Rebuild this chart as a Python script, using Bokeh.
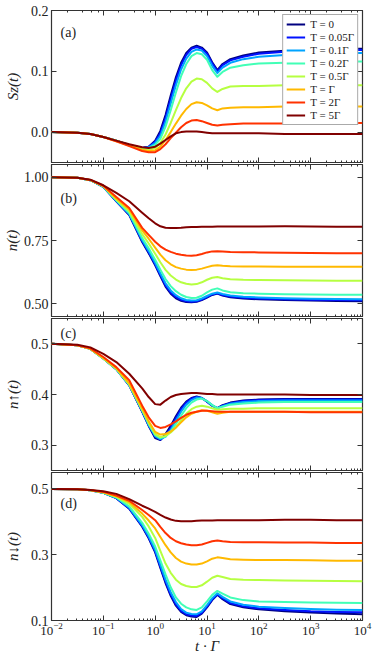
from bokeh.plotting import figure
from bokeh.models import (LogAxis, LinearAxis, FixedTicker, LogTicker,
                          PrintfTickFormatter, Label, Legend, LegendItem)
from bokeh.layouts import column
from bokeh.embed import file_html
from bokeh.resources import INLINE

# time axis t*Gamma (log spaced samples)
t = [0.01, 0.0316, 0.0562, 0.1, 0.178, 0.316, 0.562, 0.75, 1.0, 1.259, 1.585,
     1.995, 2.512, 3.162, 3.981, 5.012, 6.31, 7.943, 10.0, 12.59, 15.85, 19.95,
     28.18, 50.12, 100.0, 316.2, 1000.0, 3162.0, 10000.0]

labels = ["T = 0", "T = 0.05Γ", "T = 0.1Γ", "T = 0.2Γ", "T = 0.5Γ",
          "T = Γ", "T = 2Γ", "T = 5Γ"]
colors = ["#000080", "#0012ff", "#00a4ff", "#41ffb6", "#b6ff41",
          "#ffb900", "#ff3200", "#800000"]

# (a) S_z(t)
sz = [
    [0, -0.001, -0.003, -0.008, -0.014, -0.021, -0.026, -0.024, -0.014, 0.002, 0.028, 0.060, 0.090, 0.114, 0.130, 0.139, 0.142, 0.139, 0.131, 0.115, 0.102, 0.112, 0.120, 0.126, 0.131, 0.134, 0.136, 0.137, 0.137],
    [0, -0.001, -0.003, -0.008, -0.014, -0.021, -0.026, -0.024, -0.016, -0.002, 0.023, 0.055, 0.085, 0.110, 0.127, 0.137, 0.140, 0.137, 0.129, 0.113, 0.100, 0.110, 0.118, 0.124, 0.129, 0.132, 0.134, 0.135, 0.135],
    [0, -0.001, -0.003, -0.008, -0.014, -0.021, -0.027, -0.025, -0.018, -0.006, 0.017, 0.047, 0.077, 0.103, 0.121, 0.132, 0.136, 0.134, 0.125, 0.109, 0.097, 0.106, 0.114, 0.120, 0.124, 0.127, 0.129, 0.130, 0.130],
    [0, -0.001, -0.003, -0.008, -0.014, -0.021, -0.027, -0.026, -0.021, -0.011, 0.009, 0.036, 0.065, 0.092, 0.112, 0.125, 0.130, 0.128, 0.119, 0.102, 0.091, 0.099, 0.106, 0.110, 0.113, 0.114, 0.115, 0.116, 0.116],
    [0, -0.001, -0.003, -0.008, -0.014, -0.021, -0.028, -0.029, -0.026, -0.018, -0.004, 0.015, 0.036, 0.056, 0.072, 0.083, 0.088, 0.087, 0.081, 0.072, 0.066, 0.071, 0.075, 0.076, 0.076, 0.077, 0.077, 0.077, 0.077],
    [0, -0.001, -0.003, -0.008, -0.015, -0.022, -0.029, -0.031, -0.030, -0.024, -0.013, 0.000, 0.014, 0.027, 0.038, 0.046, 0.049, 0.048, 0.044, 0.039, 0.036, 0.039, 0.040, 0.041, 0.041, 0.042, 0.042, 0.042, 0.042],
    [0, -0.001, -0.003, -0.008, -0.015, -0.023, -0.031, -0.033, -0.033, -0.028, -0.020, -0.010, -0.001, 0.008, 0.015, 0.019, 0.020, 0.018, 0.015, 0.012, 0.011, 0.012, 0.013, 0.014, 0.014, 0.014, 0.015, 0.015, 0.015],
    [0, -0.001, -0.003, -0.008, -0.014, -0.020, -0.025, -0.026, -0.024, -0.019, -0.013, -0.007, -0.002, 0.000, 0.001, 0.001, 0.001, 0.000, -0.001, -0.002, -0.002, -0.002, -0.002, -0.002, -0.002, -0.003, -0.003, -0.003, -0.003],
]

# (b) n(t)
n_tot = [
    [1.0, 0.998, 0.988, 0.962, 0.905, 0.850, 0.744, 0.700, 0.652, 0.610, 0.568, 0.540, 0.522, 0.512, 0.507, 0.506, 0.508, 0.515, 0.525, 0.535, 0.541, 0.533, 0.526, 0.521, 0.518, 0.515, 0.513, 0.511, 0.510],
    [1.0, 0.998, 0.988, 0.962, 0.906, 0.852, 0.748, 0.704, 0.656, 0.614, 0.573, 0.545, 0.527, 0.516, 0.510, 0.508, 0.510, 0.517, 0.527, 0.537, 0.542, 0.535, 0.529, 0.524, 0.521, 0.518, 0.516, 0.515, 0.514],
    [1.0, 0.998, 0.988, 0.962, 0.907, 0.854, 0.752, 0.709, 0.662, 0.621, 0.581, 0.553, 0.534, 0.522, 0.515, 0.513, 0.514, 0.521, 0.531, 0.540, 0.545, 0.539, 0.533, 0.528, 0.525, 0.522, 0.520, 0.519, 0.518],
    [1.0, 0.998, 0.988, 0.963, 0.909, 0.858, 0.760, 0.719, 0.674, 0.635, 0.598, 0.570, 0.550, 0.536, 0.527, 0.523, 0.524, 0.532, 0.545, 0.556, 0.561, 0.553, 0.546, 0.542, 0.540, 0.538, 0.537, 0.536, 0.536],
    [1.0, 0.998, 0.988, 0.964, 0.912, 0.865, 0.775, 0.738, 0.698, 0.664, 0.634, 0.612, 0.596, 0.585, 0.579, 0.576, 0.578, 0.585, 0.595, 0.603, 0.606, 0.601, 0.597, 0.595, 0.594, 0.593, 0.592, 0.591, 0.591],
    [1.0, 0.998, 0.989, 0.965, 0.916, 0.872, 0.790, 0.757, 0.722, 0.694, 0.672, 0.656, 0.645, 0.639, 0.635, 0.634, 0.635, 0.639, 0.645, 0.650, 0.652, 0.650, 0.648, 0.647, 0.647, 0.646, 0.646, 0.646, 0.646],
    [1.0, 0.998, 0.989, 0.966, 0.922, 0.878, 0.800, 0.772, 0.745, 0.727, 0.714, 0.705, 0.698, 0.694, 0.691, 0.690, 0.692, 0.697, 0.703, 0.707, 0.708, 0.707, 0.705, 0.704, 0.703, 0.702, 0.701, 0.700, 0.700],
    [1.0, 0.998, 0.990, 0.968, 0.938, 0.905, 0.860, 0.838, 0.818, 0.806, 0.800, 0.799, 0.799, 0.800, 0.802, 0.803, 0.803, 0.804, 0.804, 0.804, 0.805, 0.805, 0.805, 0.805, 0.805, 0.806, 0.805, 0.804, 0.804],
]

# (c) n_up(t)
n_up = [
    [0.5, 0.497, 0.490, 0.471, 0.450, 0.418, 0.366, 0.338, 0.314, 0.310, 0.322, 0.338, 0.357, 0.374, 0.386, 0.393, 0.396, 0.393, 0.386, 0.378, 0.373, 0.379, 0.384, 0.388, 0.390, 0.391, 0.391, 0.391, 0.391],
    [0.5, 0.497, 0.490, 0.471, 0.450, 0.418, 0.367, 0.339, 0.317, 0.311, 0.319, 0.334, 0.353, 0.371, 0.384, 0.392, 0.395, 0.393, 0.386, 0.378, 0.373, 0.378, 0.383, 0.387, 0.389, 0.390, 0.390, 0.390, 0.390],
    [0.5, 0.497, 0.490, 0.471, 0.450, 0.419, 0.368, 0.340, 0.318, 0.312, 0.317, 0.330, 0.348, 0.366, 0.380, 0.389, 0.394, 0.393, 0.387, 0.379, 0.373, 0.377, 0.382, 0.385, 0.387, 0.388, 0.388, 0.388, 0.388],
    [0.5, 0.497, 0.490, 0.471, 0.450, 0.419, 0.369, 0.342, 0.320, 0.314, 0.317, 0.327, 0.342, 0.358, 0.373, 0.384, 0.390, 0.392, 0.387, 0.379, 0.373, 0.376, 0.380, 0.382, 0.384, 0.385, 0.385, 0.385, 0.385],
    [0.5, 0.497, 0.490, 0.471, 0.451, 0.420, 0.370, 0.344, 0.322, 0.316, 0.318, 0.325, 0.335, 0.349, 0.362, 0.371, 0.376, 0.378, 0.376, 0.373, 0.370, 0.371, 0.372, 0.372, 0.373, 0.373, 0.373, 0.373, 0.373],
    [0.5, 0.497, 0.490, 0.472, 0.452, 0.422, 0.373, 0.347, 0.326, 0.321, 0.322, 0.327, 0.335, 0.345, 0.355, 0.362, 0.366, 0.369, 0.368, 0.365, 0.362, 0.364, 0.366, 0.366, 0.366, 0.366, 0.366, 0.366, 0.366],
    [0.5, 0.497, 0.491, 0.474, 0.454, 0.428, 0.378, 0.355, 0.338, 0.334, 0.336, 0.341, 0.347, 0.354, 0.360, 0.364, 0.366, 0.368, 0.368, 0.367, 0.366, 0.366, 0.366, 0.366, 0.366, 0.366, 0.365, 0.365, 0.365],
    [0.5, 0.498, 0.493, 0.480, 0.464, 0.441, 0.412, 0.395, 0.381, 0.380, 0.388, 0.395, 0.399, 0.401, 0.402, 0.403, 0.403, 0.402, 0.401, 0.401, 0.400, 0.400, 0.400, 0.400, 0.400, 0.400, 0.399, 0.399, 0.399],
]

# (d) n_down(t)
n_dn = [
    [0.5, 0.499, 0.496, 0.488, 0.472, 0.440, 0.385, 0.350, 0.307, 0.260, 0.214, 0.175, 0.145, 0.126, 0.116, 0.112, 0.111, 0.121, 0.140, 0.162, 0.178, 0.165, 0.150, 0.140, 0.134, 0.128, 0.124, 0.121, 0.119],
    [0.5, 0.499, 0.496, 0.488, 0.472, 0.441, 0.387, 0.352, 0.310, 0.264, 0.218, 0.179, 0.149, 0.129, 0.119, 0.115, 0.114, 0.123, 0.142, 0.164, 0.180, 0.168, 0.153, 0.143, 0.137, 0.132, 0.128, 0.126, 0.125],
    [0.5, 0.499, 0.496, 0.488, 0.473, 0.443, 0.390, 0.356, 0.315, 0.270, 0.225, 0.186, 0.156, 0.135, 0.124, 0.120, 0.119, 0.128, 0.147, 0.168, 0.183, 0.172, 0.158, 0.148, 0.142, 0.138, 0.135, 0.133, 0.132],
    [0.5, 0.499, 0.496, 0.488, 0.474, 0.447, 0.397, 0.364, 0.325, 0.283, 0.240, 0.201, 0.170, 0.151, 0.140, 0.134, 0.132, 0.140, 0.158, 0.178, 0.190, 0.182, 0.170, 0.162, 0.158, 0.156, 0.155, 0.154, 0.153],
    [0.5, 0.499, 0.496, 0.489, 0.476, 0.455, 0.415, 0.386, 0.351, 0.312, 0.273, 0.245, 0.224, 0.211, 0.205, 0.202, 0.202, 0.207, 0.218, 0.230, 0.236, 0.232, 0.226, 0.224, 0.223, 0.222, 0.221, 0.220, 0.219],
    [0.5, 0.499, 0.496, 0.490, 0.478, 0.460, 0.425, 0.404, 0.380, 0.354, 0.329, 0.307, 0.290, 0.279, 0.273, 0.270, 0.270, 0.273, 0.280, 0.288, 0.292, 0.290, 0.286, 0.285, 0.284, 0.284, 0.283, 0.282, 0.282],
    [0.5, 0.499, 0.497, 0.491, 0.480, 0.464, 0.436, 0.421, 0.405, 0.385, 0.366, 0.351, 0.341, 0.335, 0.331, 0.329, 0.329, 0.331, 0.336, 0.341, 0.343, 0.341, 0.339, 0.338, 0.338, 0.337, 0.337, 0.336, 0.336],
    [0.5, 0.499, 0.497, 0.493, 0.485, 0.469, 0.449, 0.440, 0.430, 0.421, 0.413, 0.407, 0.403, 0.402, 0.402, 0.402, 0.403, 0.404, 0.404, 0.404, 0.405, 0.405, 0.405, 0.405, 0.405, 0.406, 0.406, 0.405, 0.405],
]

y_ranges = [(-0.05, 0.2), (0.45, 1.05), (0.25, 0.55), (0.1, 0.55)]
y_ticks = [[0.0, 0.1, 0.2], [0.5, 0.75, 1.0], [0.3, 0.4, 0.5], [0.1, 0.3, 0.5]]
y_fmts = ["%.1f", "%.2f", "%.1f", "%.1f"]
y_titles = ["Sz(t)", "n(t)", "n↑(t)", "n↓(t)"]
panel_tags = ["(a)", "(b)", "(c)", "(d)"]
x_title = "t · Γ"

FONT = "Liberation Serif"
TXT = "#222222"
W = 374


def style_axis(ax, show_labels, minor=True):
    ax.axis_line_color = None
    ax.major_tick_in = 5
    ax.major_tick_out = 0
    ax.major_tick_line_color = "#333333"
    ax.minor_tick_in = 2 if minor else 0
    ax.minor_tick_out = 0
    ax.minor_tick_line_color = "#333333"
    ax.major_label_text_font = FONT
    ax.major_label_text_color = TXT
    if show_labels:
        ax.major_label_text_font_size = "14px"
        ax.major_label_standoff = 3
    else:
        ax.major_label_text_font_size = "1px"
        ax.major_label_text_alpha = 0.0
        ax.major_label_standoff = 0


def make_panel(i, height, top, bottom, show_x):
    p = figure(width=W, height=height, x_axis_type="log", x_range=(0.01, 1e4),
               y_range=y_ranges[i], output_backend="svg", toolbar_location=None,
               min_border_left=48, min_border_right=12, min_border_top=top,
               min_border_bottom=bottom)
    p.grid.visible = False
    p.outline_line_color = "#333333"
    p.outline_line_width = 1.2
    p.background_fill_color = "white"
    p.border_fill_color = "white"

    xa = p.xaxis[0]
    style_axis(xa, show_x)
    if show_x:
        xa.major_label_text_font_size = "13px"
        xa.major_label_standoff = 2
        xa.axis_label = x_title
        xa.axis_label_text_font = FONT
        xa.axis_label_text_font_size = "15px"
        xa.axis_label_text_font_style = "italic"
        xa.axis_label_text_color = TXT
        xa.axis_label_standoff = 0

    ya = p.yaxis[0]
    ya.ticker = FixedTicker(ticks=y_ticks[i])
    ya.formatter = PrintfTickFormatter(format=y_fmts[i])
    style_axis(ya, True, minor=False)
    ya.axis_label = y_titles[i]
    ya.axis_label_text_font = FONT
    ya.axis_label_text_font_size = "15px"
    ya.axis_label_text_font_style = "italic"
    ya.axis_label_text_color = TXT
    ya.axis_label_standoff = 1 if i == 1 else 7

    top_ax = LogAxis(ticker=LogTicker())
    style_axis(top_ax, False)
    p.add_layout(top_ax, "above")
    right_ax = LinearAxis(ticker=FixedTicker(ticks=y_ticks[i]))
    style_axis(right_ax, False, minor=False)
    p.add_layout(right_ax, "right")
    return p


datasets = [sz, n_tot, n_up, n_dn]
heights = [163, 154, 154, 185]
tops = [10, 1, 1, 1]
bottoms = [1, 1, 1, 32]
tag_y = [130, 118, 137, 117]

figs = []
renderers_a = []
for i in range(4):
    p = make_panel(i, heights[i], tops[i], bottoms[i], i == 3)
    for yv, c in zip(datasets[i], colors):
        r = p.line(t, yv, line_color=c, line_width=2, line_join="round")
        if i == 0:
            renderers_a.append(r)
    p.add_layout(Label(x=9, y=tag_y[i], x_units="screen", y_units="screen",
                       text=panel_tags[i], text_font=FONT, text_font_size="14px",
                       text_color=TXT, text_baseline="middle", text_align="left"))
    figs.append(p)

legend = Legend(items=[LegendItem(label=lab, renderers=[r])
                       for lab, r in zip(labels, renderers_a)],
                location="top_right")
legend.margin = 4
legend.padding = 3
legend.spacing = 1
legend.label_height = 12
legend.glyph_height = 12
legend.glyph_width = 19
legend.label_standoff = 5
legend.label_text_font = FONT
legend.label_text_font_size = "11px"
legend.label_text_color = TXT
legend.border_line_color = "#555555"
legend.border_line_width = 1.5
legend.background_fill_alpha = 1.0
figs[0].add_layout(legend)

layout = column(*figs, spacing=0)
open("out.html", "w").write(file_html(layout, INLINE))
